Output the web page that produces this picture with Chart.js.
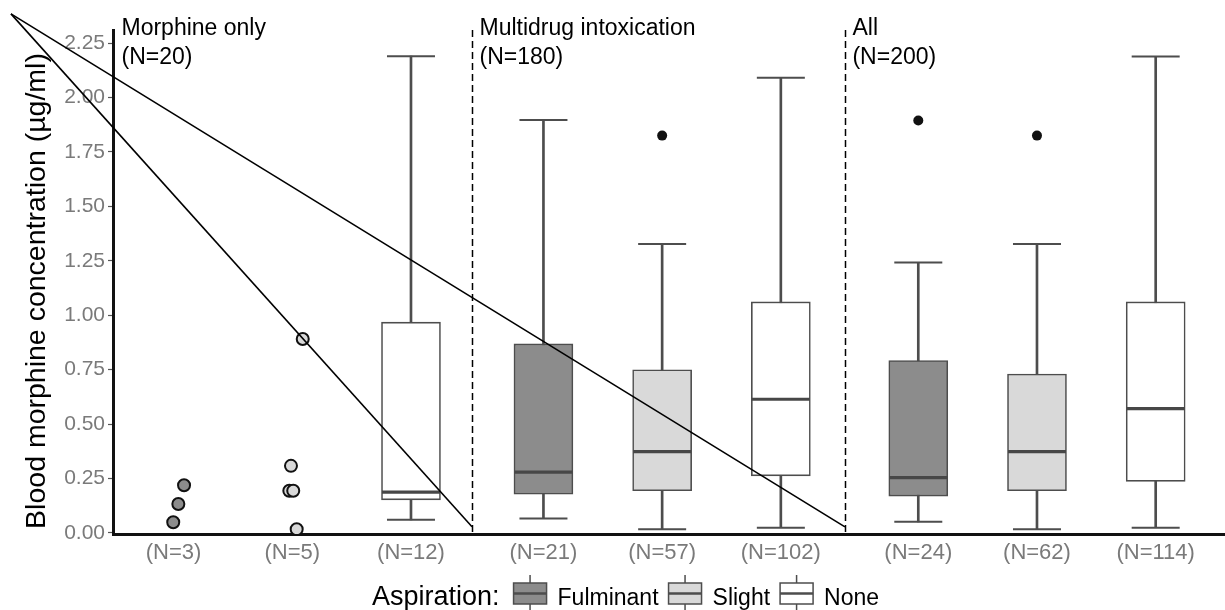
<!DOCTYPE html>
<html>
<head>
<meta charset="utf-8">
<script src="https://cdn.jsdelivr.net/npm/chart.js@4.4.1/dist/chart.umd.min.js"></script>
<style>
  html, body { margin: 0; padding: 0; background: #fff; }
</style>
</head>
<body>
<canvas id="chart" width="1225" height="610"></canvas>
<script>
const FONT = "'Liberation Sans', Arial, Helvetica, sans-serif";

// categories along x
const xLabels = ['(N=3)', '(N=5)', '(N=12)', '(N=21)', '(N=57)', '(N=102)', '(N=24)', '(N=62)', '(N=114)'];
const aspiration = ['Fulminant', 'Slight', 'None', 'Fulminant', 'Slight', 'None', 'Fulminant', 'Slight', 'None'];
const groupOf = [0, 0, 0, 1, 1, 1, 2, 2, 2];
const groupNames = ['Morphine only', 'Multidrug intoxication', 'All'];
const groupN = ['(N=20)', '(N=180)', '(N=200)'];
const legendItems = ['Fulminant', 'Slight', 'None'];
const yTicks = [0, 0.25, 0.5, 0.75, 1, 1.25, 1.5, 1.75, 2, 2.25];

// box statistics (µg/ml), one entry per box
const boxIdx = [2, 3, 4, 5, 6, 7, 8];
const whiskerLow = [0.060, 0.066, 0.017, 0.024, 0.051, 0.017, 0.024];
const q1 = [0.152, 0.178, 0.194, 0.262, 0.169, 0.194, 0.237];
const median = [0.187, 0.279, 0.373, 0.614, 0.254, 0.373, 0.571];
const q3 = [0.968, 0.868, 0.749, 1.061, 0.792, 0.730, 1.061];
const whiskerHigh = [2.190, 1.897, 1.327, 2.091, 1.242, 1.327, 2.188];

// outliers
const outlierIdx = [4, 6, 7];
const outlierVal = [1.825, 1.894, 1.825];

// morphine only, too few cases for a box: raw values + jitter
const rawFulminant = [0.049, 0.133, 0.219];
const jitterFulminant = [-0.003, 0.040, 0.088];
const rawSlight = [0.308, 0.194, 0.194, 0.017, 0.891];
const jitterSlight = [-0.011, -0.025, 0.008, 0.037, 0.088];

// layout
const groupShift = [0, 0.116, 0.274];
const dividerAt = [2.514, 5.656];
const sweepFrom = { x: -1.370, y: 2.384 };
const sweepToY = 0.028;

const fills = { Fulminant: '#8c8c8c', Slight: '#d9d9d9', None: '#ffffff' };
const EDGE = '#4d4d4d';
const xpos = i => i + groupShift[groupOf[i]];

const decor = {
    id: 'decor',
    beforeDatasetsDraw(chart) {
        const { ctx, chartArea, scales: { x } } = chart;
        ctx.save();
        ctx.strokeStyle = '#000';
        ctx.lineWidth = 1.5;
        ctx.setLineDash([7, 4]);
        dividerAt.forEach(d => {
            const px = Math.round(x.getPixelForValue(d)) + 0.5;
            ctx.beginPath();
            ctx.moveTo(px, chartArea.top);
            ctx.lineTo(px, chartArea.bottom);
            ctx.stroke();
        });
        ctx.restore();
    },
    afterDraw(chart) {
        const { ctx, chartArea, scales: { x, y } } = chart;
        ctx.save();

        // group headers
        ctx.fillStyle = '#000';
        ctx.font = `23px ${FONT}`;
        ctx.textAlign = 'left';
        ctx.textBaseline = 'alphabetic';
        groupNames.forEach((name, g) => {
            const left = g === 0 ? chartArea.left + 8.5 : x.getPixelForValue(dividerAt[g - 1]) + 7.5;
            ctx.fillText(name, left, 35);
            ctx.fillText(groupN[g], left, 63.5);
        });

        // y title
        ctx.save();
        ctx.translate(45, 291);
        ctx.rotate(-Math.PI / 2);
        ctx.textAlign = 'center';
        ctx.font = `28.5px ${FONT}`;
        ctx.fillText('Blood morphine concentration (µg/ml)', 0, 0);
        ctx.restore();

        // legend
        let lx = 372;
        const base = 605;
        ctx.font = `27px ${FONT}`;
        ctx.fillText('Aspiration:', lx, base);
        lx += ctx.measureText('Aspiration:').width + 14;
        ctx.font = `23px ${FONT}`;
        legendItems.forEach(name => {
            ctx.strokeStyle = EDGE;
            ctx.lineWidth = 1.5;
            ctx.beginPath();
            ctx.moveTo(lx + 16.5, 575);
            ctx.lineTo(lx + 16.5, 612);
            ctx.stroke();
            ctx.fillStyle = fills[name];
            ctx.fillRect(lx, 583, 33, 21);
            ctx.strokeRect(lx, 583, 33, 21);
            ctx.lineWidth = 2.5;
            ctx.beginPath();
            ctx.moveTo(lx, 593.5);
            ctx.lineTo(lx + 33, 593.5);
            ctx.stroke();
            ctx.fillStyle = '#000';
            ctx.fillText(name, lx + 44, base);
            lx += 44 + ctx.measureText(name).width + 10;
        });

        // the two sweeping lines
        ctx.strokeStyle = '#000';
        ctx.lineWidth = 1.6;
        const sx = x.getPixelForValue(sweepFrom.x), sy = y.getPixelForValue(sweepFrom.y);
        dividerAt.forEach(d => {
            ctx.beginPath();
            ctx.moveTo(sx, sy);
            ctx.lineTo(x.getPixelForValue(d), y.getPixelForValue(sweepToY));
            ctx.stroke();
        });
        ctx.restore();
    }
};

new Chart(document.getElementById('chart'), {
    type: 'bar',
    data: {
        datasets: [
            {
                type: 'bar',
                data: boxIdx.map((c, k) => ({ x: xpos(c), y: [whiskerLow[k], whiskerHigh[k]] })),
                backgroundColor: EDGE,
                borderWidth: 0,
                barThickness: 2,
                grouped: false,
                order: 6,
            },
            {
                type: 'scatter',
                data: boxIdx.flatMap((c, k) => [{ x: xpos(c), y: whiskerLow[k] }, { x: xpos(c), y: whiskerHigh[k] }]),
                pointStyle: 'line',
                pointRadius: 24,
                pointBorderColor: EDGE,
                pointBorderWidth: 2,
                order: 5,
            },
            {
                type: 'bar',
                data: boxIdx.map((c, k) => ({ x: xpos(c), y: [q1[k], q3[k]] })),
                backgroundColor: boxIdx.map(c => fills[aspiration[c]]),
                borderColor: EDGE,
                borderWidth: 1.6,
                borderSkipped: false,
                barThickness: 59,
                grouped: false,
                order: 4,
            },
            {
                type: 'scatter',
                data: boxIdx.map((c, k) => ({ x: xpos(c), y: median[k] })),
                pointStyle: 'line',
                pointRadius: 29,
                pointBorderColor: '#474747',
                pointBorderWidth: 3.2,
                order: 3,
            },
            {
                type: 'scatter',
                data: outlierIdx.map((c, k) => ({ x: xpos(c), y: outlierVal[k] })),
                pointRadius: 5,
                pointBackgroundColor: '#111',
                pointBorderWidth: 0,
                order: 2,
            },
            {
                type: 'scatter',
                data: rawFulminant.map((v, k) => ({ x: xpos(0) + jitterFulminant[k], y: v })),
                pointRadius: 6,
                pointBackgroundColor: fills.Fulminant,
                pointBorderColor: '#111',
                pointBorderWidth: 2,
                order: 1,
            },
            {
                type: 'scatter',
                data: rawSlight.map((v, k) => ({ x: xpos(1) + jitterSlight[k], y: v })),
                pointRadius: 6,
                pointBackgroundColor: fills.Slight,
                pointBorderColor: '#111',
                pointBorderWidth: 2,
                order: 1,
            },
        ],
    },
    options: {
        responsive: false,
        animation: false,
        events: [],
        layout: { autoPadding: false, padding: { top: 30, left: 0, right: 0, bottom: 0 } },
        plugins: { legend: { display: false }, tooltip: { enabled: false } },
        scales: {
            x: {
                type: 'linear',
                offset: false,
                min: -0.5105,
                max: 8.858,
                afterBuildTicks: s => { s.ticks = xLabels.map((_, i) => ({ value: xpos(i) })); },
                afterFit: s => { s.height = 76; s.paddingLeft = 0; s.paddingRight = 0; },
                grid: { display: false, drawTicks: false, offset: false },
                border: { display: true, color: '#111', width: 3 },
                ticks: {
                    autoSkip: false,
                    maxRotation: 0,
                    padding: 6,
                    color: '#7a7a7a',
                    font: { family: FONT, size: 22 },
                    callback: (v, i) => xLabels[i],
                },
            },
            y: {
                type: 'linear',
                min: -0.005,
                max: 2.31,
                afterBuildTicks: s => { s.ticks = yTicks.map(v => ({ value: v })); },
                afterFit: s => { s.width = 113; s.paddingTop = 0; s.paddingBottom = 0; },
                grid: { display: true, drawOnChartArea: false, drawTicks: true, tickLength: 5, tickColor: '#555', tickWidth: 1.2 },
                border: { display: true, color: '#111', width: 3 },
                ticks: {
                    padding: 3,
                    color: '#7a7a7a',
                    font: { family: FONT, size: 21 },
                    callback: v => v.toFixed(2),
                },
            },
        },
    },
    plugins: [decor],
});
</script>
</body>
</html>
